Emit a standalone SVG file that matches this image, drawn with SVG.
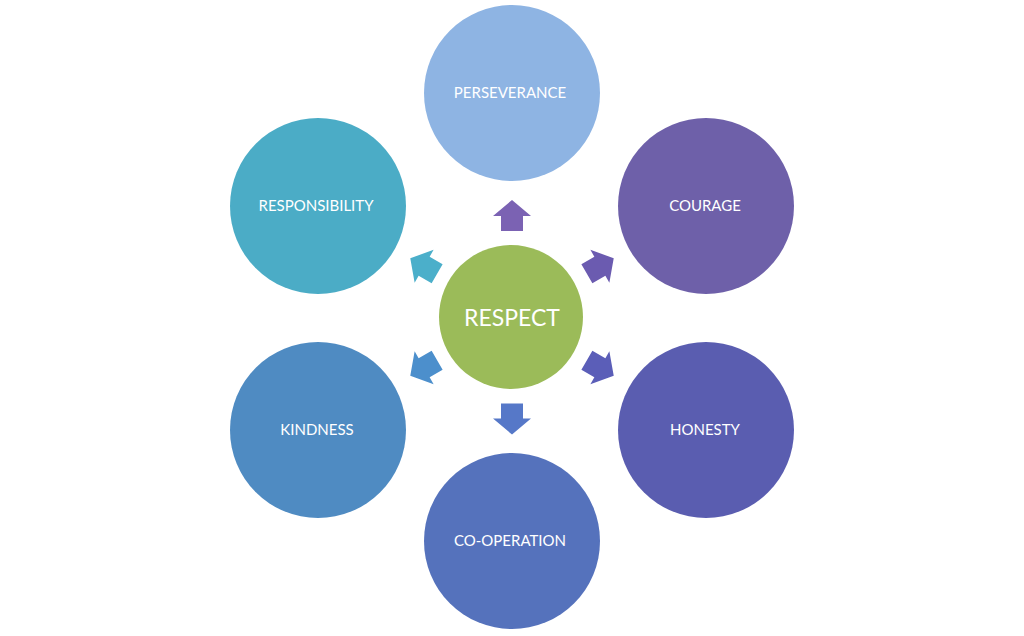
<svg xmlns="http://www.w3.org/2000/svg" width="1024" height="636" viewBox="0 0 1024 636">
<defs>
<style>
.lbl{font-family:Lato,"Liberation Sans",sans-serif;font-size:15px;fill:#ffffff;text-anchor:middle}
.big{font-family:Lato,"Liberation Sans",sans-serif;font-size:23px;fill:#ffffff;text-anchor:middle}
</style>
<polygon id="arr" points="0,-15.5 19,0.5 11,0.5 11,15.5 -11,15.5 -11,0.5 -19,0.5"/>
</defs>
<rect width="1024" height="636" fill="#ffffff"/>
<g id="connectors">
<use href="#arr" fill="#7B62B3" transform="translate(512,215.5)"/>
<use href="#arr" fill="#6B5BB0" transform="translate(600.3,266) rotate(60)"/>
<use href="#arr" fill="#5B5EB8" transform="translate(600.3,368) rotate(120)"/>
<use href="#arr" fill="#5678C8" transform="translate(512,419) rotate(180)"/>
<use href="#arr" fill="#4C8FCC" transform="translate(423.7,368) rotate(240)"/>
<use href="#arr" fill="#4BAFCA" transform="translate(423.7,266) rotate(300)"/>
</g>
<g id="respect">
<circle cx="511" cy="317" r="72" fill="#9BBB59"/>
<text class="big" x="512" y="325.5">RESPECT</text>
</g>
<g id="perseverance">
<circle cx="512" cy="93" r="88" fill="#8EB4E3"/>
<text class="lbl" x="510" y="98">PERSEVERANCE</text>
</g>
<g id="courage">
<circle cx="706" cy="206" r="88" fill="#6E60A9"/>
<text class="lbl" x="705" y="211">COURAGE</text>
</g>
<g id="honesty">
<circle cx="706" cy="430" r="88" fill="#5A5DB0"/>
<text class="lbl" x="705" y="435">HONESTY</text>
</g>
<g id="cooperation">
<circle cx="512" cy="541" r="88" fill="#5572BC"/>
<text class="lbl" x="510" y="546">CO-OPERATION</text>
</g>
<g id="kindness">
<circle cx="318" cy="430" r="88" fill="#4F8BC2"/>
<text class="lbl" x="317" y="435">KINDNESS</text>
</g>
<g id="responsibility">
<circle cx="318" cy="206" r="88" fill="#4BACC6"/>
<text class="lbl" x="316" y="211">RESPONSIBILITY</text>
</g>
</svg>
